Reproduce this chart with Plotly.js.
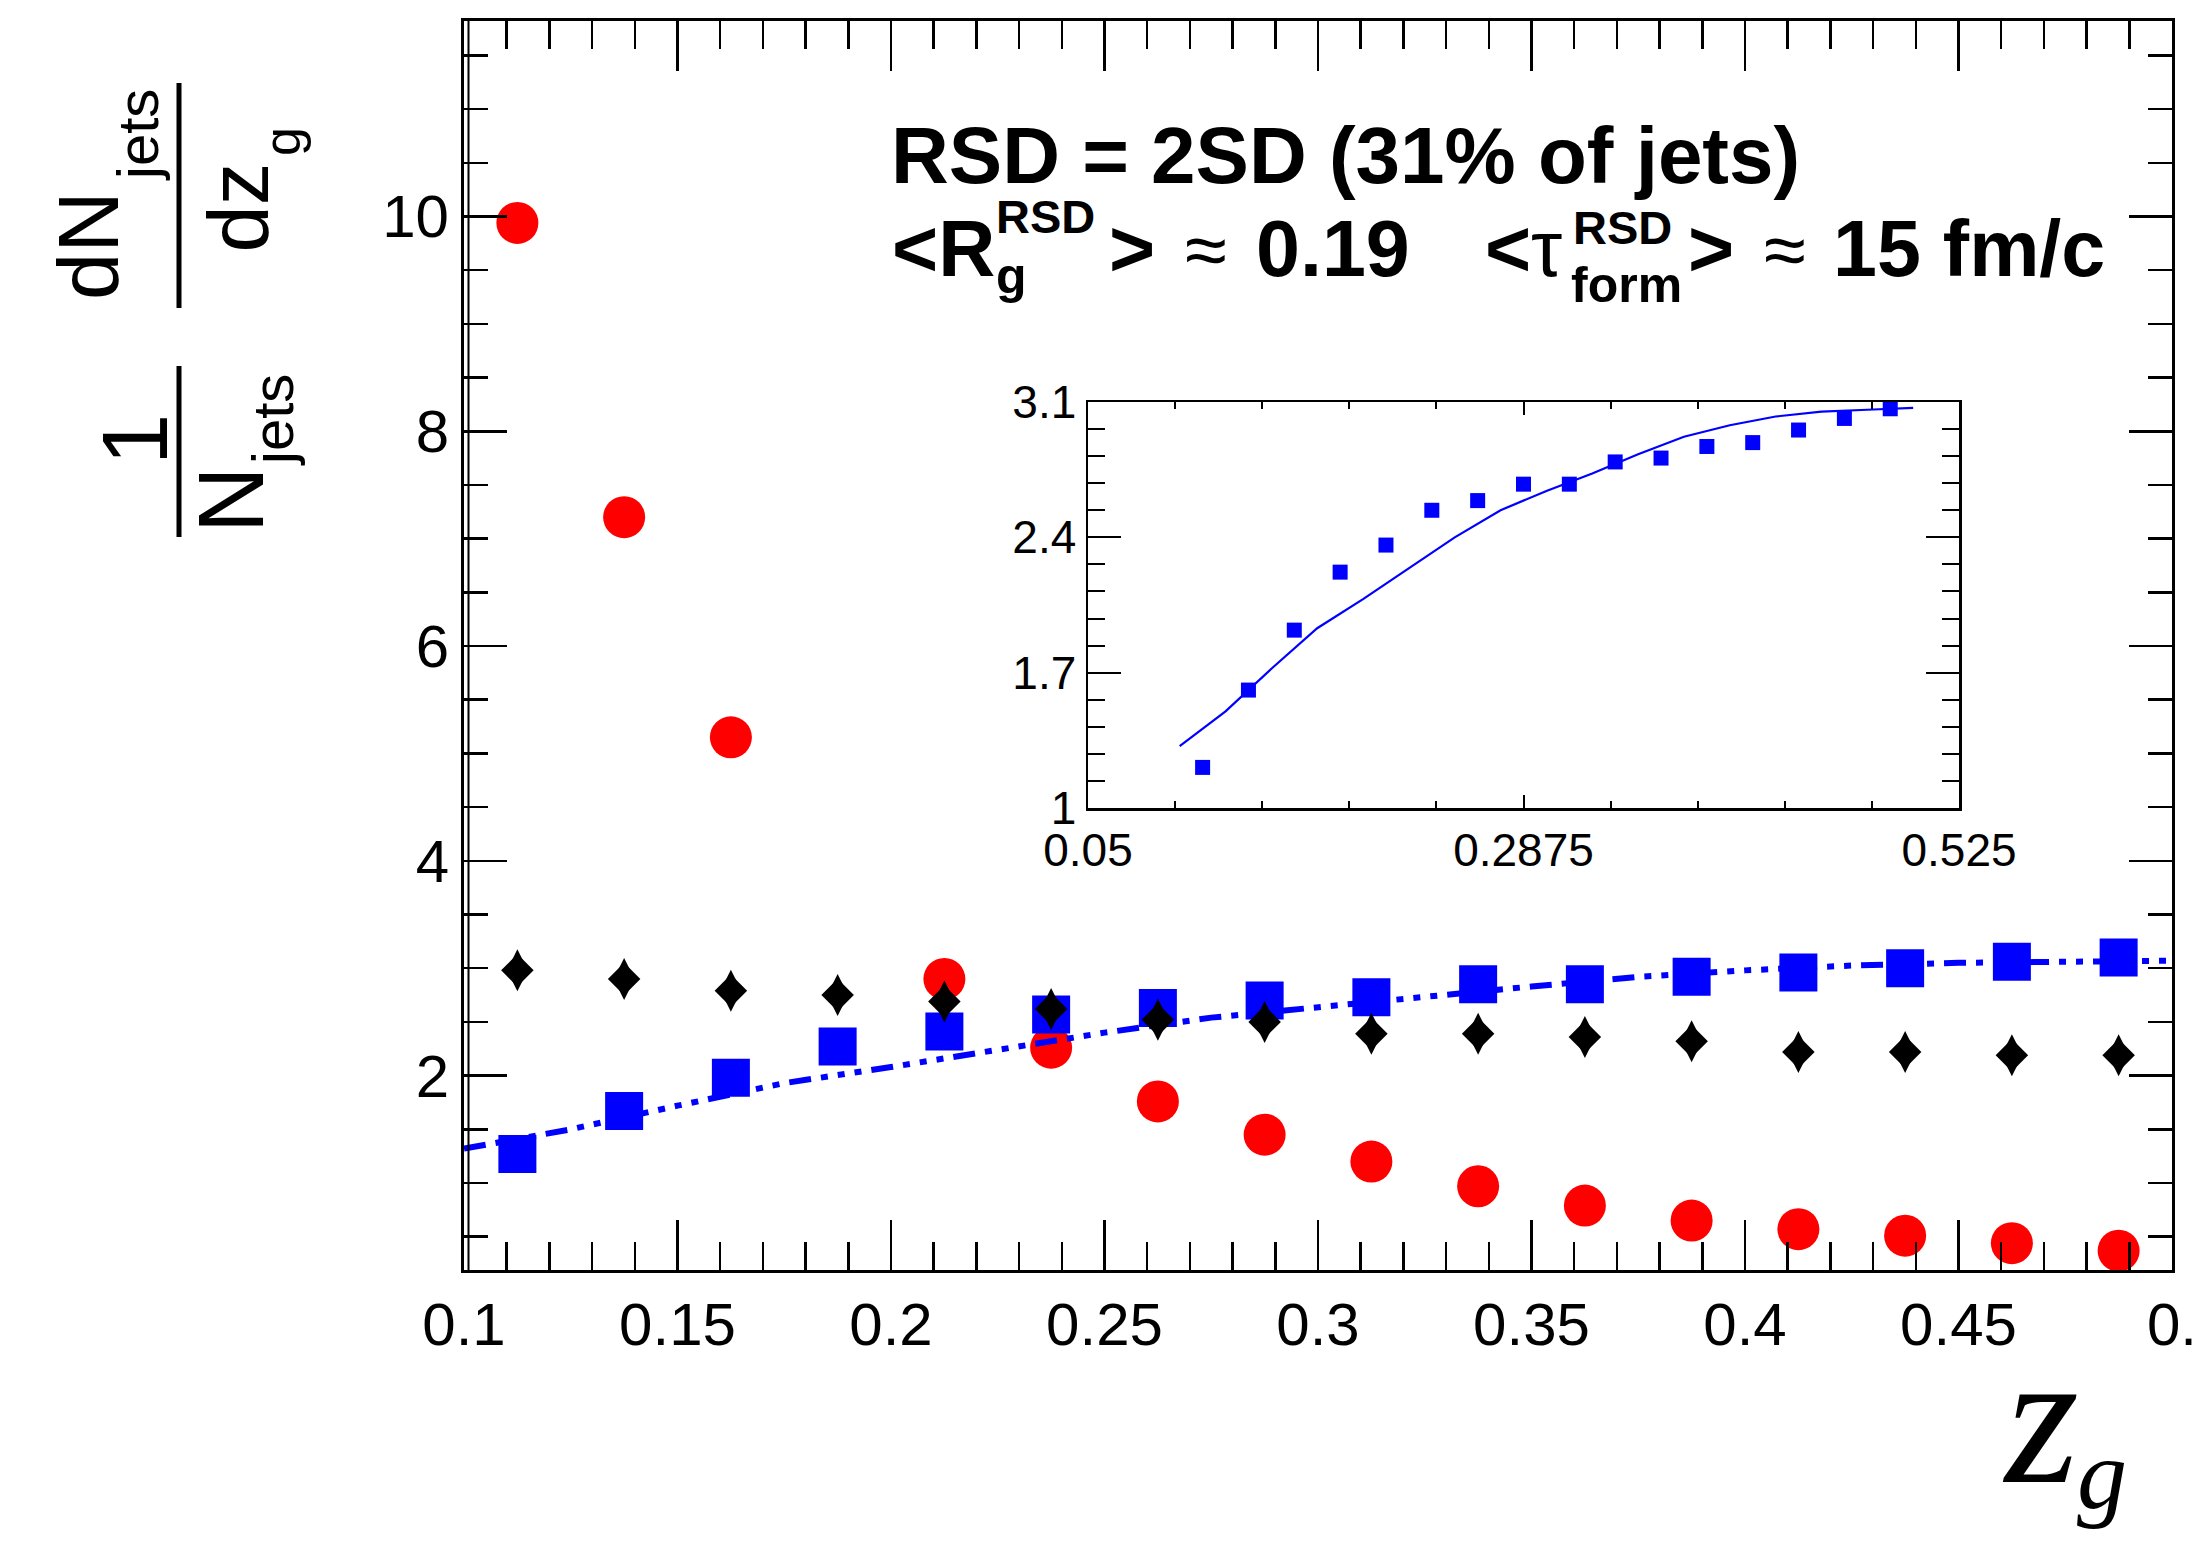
<!DOCTYPE html>
<html>
<head>
<meta charset="utf-8">
<script src="https://cdn.plot.ly/plotly-3.0.1.min.js"></script>
<style>
html,body{margin:0;padding:0;background:#ffffff;}
#chart{width:2203px;height:1542px;}
</style>
</head>
<body>
<div id="chart"></div>
<script>
// ---------------- data ----------------
const zgBins = [0.1125,0.1375,0.1625,0.1875,0.2125,0.2375,0.2625,0.2875,0.3125,0.3375,0.3625,0.3875,0.4125,0.4375,0.4625,0.4875];
const redValues = [9.94,7.20,5.15,null,2.90,2.26,1.76,1.45,1.20,0.97,0.79,0.65,0.57,0.51,0.44,0.37];
const blueValues = [1.27,1.67,1.98,2.27,2.41,2.57,2.63,2.70,2.73,2.85,2.85,2.92,2.96,3.00,3.06,3.10];
const blackValues = [2.98,2.90,2.79,2.75,2.69,2.62,2.52,2.50,2.39,2.39,2.36,2.32,2.22,2.22,2.19,2.19];
const insetBlueValues = [1.21,1.61,1.92,2.22,2.36,2.54,2.59,2.675,2.675,2.79,2.81,2.87,2.89,2.955,3.015,3.065];
const fitX = [0.100,0.125,0.150,0.175,0.200,0.225,0.250,0.275,0.300,0.325,0.350,0.375,0.400,0.425,0.450,0.475,0.500];
const fitY = [1.32,1.50,1.72,1.93,2.08,2.24,2.40,2.54,2.64,2.73,2.83,2.92,2.98,3.025,3.05,3.06,3.07];

const mainXTickVals = [0.1,0.15,0.2,0.25,0.3,0.35,0.4,0.45,0.5];
const mainXTickText = ["0.1","0.15","0.2","0.25","0.3","0.35","0.4","0.45","0."];
const insetXTickVals = [0.05,0.2875,0.525];
const insetXTickText = ["0.05","0.2875","0.525"];
const insetYTickVals = [1,1.7,2.4,3.1];
const insetYTickText = ["1","1.7","2.4","3.1"];

// ---------------- geometry helpers (pixels -> paper) ----------------
const W = 2203, H = 1542;
const L = 464, R = 2172, T = 21, B = 1270;
const px = x => (x - L) / (R - L);
const py = y => (B - y) / (B - T);

const SANS = "Liberation Sans, Arial, Helvetica, sans-serif";
const SERIF = "Liberation Serif, Times New Roman, serif";

const traces = [
  {x: zgBins, y: redValues, type:'scatter', mode:'markers', xaxis:'x', yaxis:'y',
   marker:{symbol:'circle', size:42, color:'#ff0000'}, hoverinfo:'skip'},
  {x: zgBins, y: blueValues, type:'scatter', mode:'markers', xaxis:'x', yaxis:'y',
   marker:{symbol:'square', size:38, color:'#0000ff'}, hoverinfo:'skip'},
  {x: fitX, y: fitY, type:'scatter', mode:'lines', xaxis:'x', yaxis:'y',
   line:{color:'#0000ff', width:6, dash:'22px,10px,7px,10px,7px,10px,7px,10px'}, hoverinfo:'skip'},
  // full diamond: wide core + tall spike, same points
  {x: zgBins, y: blackValues, type:'scatter', mode:'markers', xaxis:'x', yaxis:'y',
   marker:{symbol:'diamond', size:25, color:'#000000'}, hoverinfo:'skip'},
  {x: zgBins, y: blackValues, type:'scatter', mode:'markers', xaxis:'x', yaxis:'y',
   marker:{symbol:'diamond-tall', size:30, color:'#000000'}, hoverinfo:'skip'},
  {x: fitX, y: fitY, type:'scatter', mode:'lines', xaxis:'x2', yaxis:'y2',
   line:{color:'#0000ff', width:2.2}, hoverinfo:'skip'},
  {x: zgBins, y: insetBlueValues, type:'scatter', mode:'markers', xaxis:'x2', yaxis:'y2',
   marker:{symbol:'square', size:15, color:'#0000ff'}, hoverinfo:'skip'}
];

function ann(text, x, y, size, opts) {
  const o = Object.assign({xanchor:'left', yanchor:'middle', weight:400, family:SANS, angle:0, style:'normal'}, opts||{});
  return {text:text, x:px(x), y:py(y), xref:'paper', yref:'paper', showarrow:false,
          xanchor:o.xanchor, yanchor:o.yanchor, textangle:o.angle, borderpad:0,
          font:{family:o.family, size:size, color:'#000000', weight:o.weight, style:o.style}};
}
const bold = {weight:700};
const rot = {angle:-90, xanchor:'center', yanchor:'middle'};

const annotations = [
  // header line 1
  ann('RSD = 2SD (31% of jets)', 890, 183 - 27.7, 80, bold),
  // header line 2
  ann('&lt;R', 891, 248.6, 79, bold),
  ann('RSD', 995, 217, 47, bold),
  ann('g', 995, 276, 50, bold),
  ann('&gt;', 1108, 248.6, 79, bold),
  ann('≈', 1184, 249.7, 76),
  ann('0.19', 1255, 248.6, 79, bold),
  ann('&lt;', 1484, 248.6, 79, bold),
  ann('τ', 1530, 248.6, 79),
  ann('RSD', 1572, 227.5, 47, bold),
  ann('form', 1570, 284.7, 50, bold),
  ann('&gt;', 1687, 248.6, 79, bold),
  ann('≈', 1763, 249.7, 76),
  ann('15 fm/c', 1832, 248.6, 79, bold),
  // y-axis title (rotated fractions)
  ann('dN', 88.5, 245.5, 85, rot),
  ann('jets', 137, 135, 58, rot),
  ann('dz', 237.5, 207, 85, rot),
  ann('g', 282, 142, 52, rot),
  ann('1', 135, 440, 92, rot),
  ann('N', 231, 500, 92, rot),
  ann('jets', 273, 420, 58, rot),
  // x-axis title
  ann('z', 2040, 1418, 190, {xanchor:'center', family:SERIF, style:'italic'}),
  ann('g', 2102, 1474, 100, {xanchor:'center', family:SERIF, style:'italic'})
];

const shapes = [
  {type:'line', xref:'paper', yref:'paper', x0:px(179), x1:px(179), y0:py(83), y1:py(308), line:{color:'#000', width:5}},
  {type:'line', xref:'paper', yref:'paper', x0:px(179), x1:px(179), y0:py(366), y1:py(537), line:{color:'#000', width:5}},
  {type:'line', xref:'paper', yref:'paper', x0:px(468.5), x1:px(468.5), y0:0, y1:1, line:{color:'#000', width:2}}
];

const axisCommon = {showgrid:false, zeroline:false, showline:true, linecolor:'#000', mirror:'allticks',
                    ticks:'inside', tickcolor:'#000', fixedrange:true};

const layout = {
  width:W, height:H,
  margin:{l:L, r:W-R, t:T, b:H-B, pad:0},
  paper_bgcolor:'#ffffff', plot_bgcolor:'#ffffff',
  showlegend:false,
  xaxis: Object.assign({}, axisCommon, {
    domain:[0,1], anchor:'y', range:[0.1,0.5],
    tickmode:'array', tickvals:mainXTickVals, ticktext:mainXTickText,
    ticklen:50, tickwidth:2.5, linewidth:3,
    minor:{tick0:0.1, dtick:0.01, ticks:'inside', ticklen:28, tickwidth:2.5, tickcolor:'#000'},
    tickfont:{family:SANS, size:60, color:'#000'}
  }),
  yaxis: Object.assign({}, axisCommon, {
    domain:[0,1], anchor:'x', range:[0.19,11.82],
    tick0:0, dtick:2, ticklen:43, tickwidth:2.5, linewidth:3,
    minor:{tick0:0, dtick:0.5, ticks:'inside', ticklen:24, tickwidth:2.5, tickcolor:'#000'},
    tickfont:{family:SANS, size:60, color:'#000'}
  }),
  xaxis2: Object.assign({}, axisCommon, {
    domain:[px(1088), px(1959)], anchor:'y2', range:[0.05,0.525],
    tickmode:'array', tickvals:insetXTickVals, ticktext:insetXTickText,
    ticklen:13, tickwidth:2, linewidth:2.5,
    minor:{tick0:0.05, dtick:0.0475, ticks:'inside', ticklen:7, tickwidth:2, tickcolor:'#000'},
    tickfont:{family:SANS, size:46, color:'#000'}
  }),
  yaxis2: Object.assign({}, axisCommon, {
    domain:[py(808), py(402)], anchor:'x2', range:[1,3.1],
    tickmode:'array', tickvals:insetYTickVals, ticktext:insetYTickText,
    ticklen:33, tickwidth:2, linewidth:2.5,
    minor:{tick0:1, dtick:0.14, ticks:'inside', ticklen:17, tickwidth:2, tickcolor:'#000'},
    tickfont:{family:SANS, size:46, color:'#000'}
  }),
  annotations: annotations,
  shapes: shapes
};

Plotly.newPlot('chart', traces, layout, {displayModeBar:false, staticPlot:true});
</script>
</body>
</html>
